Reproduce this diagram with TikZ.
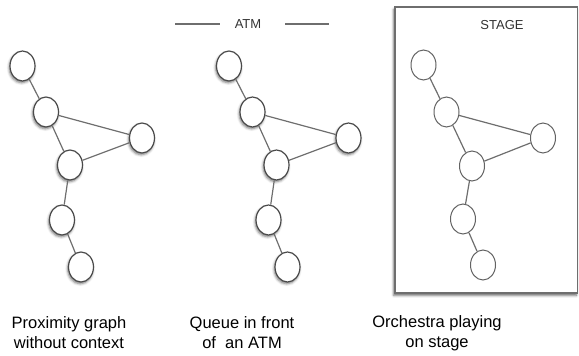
\documentclass[tikz,border=0pt]{standalone}
\usepackage{fontspec}
\setmainfont{Liberation Sans}
\usetikzlibrary{shapes.geometric,shadows.blur}
\definecolor{edgegray}{HTML}{6E6E6E}
\definecolor{rimgray}{HTML}{4A4A4A}
\tikzset{
  person/.style={ellipse, draw=rimgray, line width=1.2pt, fill=white,
    minimum width=25pt, minimum height=30pt, inner sep=0pt},
  shaded person/.style={person, blur shadow={shadow xshift=-0.8pt,
    shadow yshift=-1.8pt, shadow blur radius=2.5pt, shadow opacity=55}},
  plain person/.style={person, line width=1pt, draw=edgegray!90!black},
  link/.style={draw=edgegray, line width=1.2pt},
  caption/.style={align=center, font=\fontsize{16.5}{20}\selectfont},
  tag/.style={font=\fontsize{13}{15}\selectfont, text=black!80},
  rule/.style={draw=edgegray, line width=1.2pt},
}
\begin{document}
\begin{tikzpicture}[x=1pt, y=-1pt]
  \useasboundingbox (0,0) rectangle (579,356);

  % the stage frame
  \draw[draw=rimgray!80, line width=1.3pt, fill=white,
    blur shadow={shadow xshift=-1.2pt, shadow yshift=-2.4pt,
      shadow blur radius=2.5pt, shadow opacity=60}]
    (395,7) rectangle (577.5,293);
  \node[tag] (stage) at (502,25) {STAGE};

  % ATM marker with its two rules
  \node[tag] (atm) at (248,24) {ATM};
  \coordinate (ruleAa) at (175,24);
  \coordinate (ruleAb) at (220,24);
  \coordinate (ruleBa) at (285,24);
  \coordinate (ruleBb) at (329,24);
  \draw[rule] (ruleAa) -- (ruleAb);
  \draw[rule] (ruleBa) -- (ruleBb);

  % graph one: no context
  \begin{scope}[name prefix=a-]
    \node[shaded person] (1) at (22.5,66) {};
    \node[shaded person] (2) at (46,112) {};
    \node[shaded person] (3) at (142,138) {};
    \node[shaded person] (4) at (70,165) {};
    \node[shaded person] (5) at (62,220) {};
    \node[shaded person] (6) at (81,267) {};
  \end{scope}

  % graph two: queue at the ATM
  \begin{scope}[name prefix=b-, xshift=206.5pt]
    \node[shaded person] (1) at (22.5,66) {};
    \node[shaded person] (2) at (46,112) {};
    \node[shaded person] (3) at (142,138) {};
    \node[shaded person] (4) at (70,165) {};
    \node[shaded person] (5) at (62,220) {};
    \node[shaded person] (6) at (81,267) {};
  \end{scope}

  % graph three: orchestra on stage
  \begin{scope}[name prefix=c-, xshift=401pt]
    \node[plain person] (1) at (22.5,65) {};
    \node[plain person] (2) at (45.5,112) {};
    \node[plain person] (3) at (142,138) {};
    \node[plain person] (4) at (71,166) {};
    \node[plain person] (5) at (62,219) {};
    \node[plain person] (6) at (82,265) {};
  \end{scope}

  % links between neighbours
  \foreach \g in {a,b,c}{
    \draw[link] (\g-1) -- (\g-2);
    \draw[link] (\g-2) -- (\g-3);
    \draw[link] (\g-2) -- (\g-4);
    \draw[link] (\g-4) -- (\g-3);
    \draw[link] (\g-4) -- (\g-5);
    \draw[link] (\g-5) -- (\g-6);
  }

  % captions
  \node[caption] (capA) at (69,333) {Proximity graph\\without context};
  \node[caption] (capB) at (242,333) {Queue in front\\of\ \ an ATM};
  \node[caption] (capC) at (437,333) {Orchestra playing\\on stage};
\end{tikzpicture}
\end{document}
